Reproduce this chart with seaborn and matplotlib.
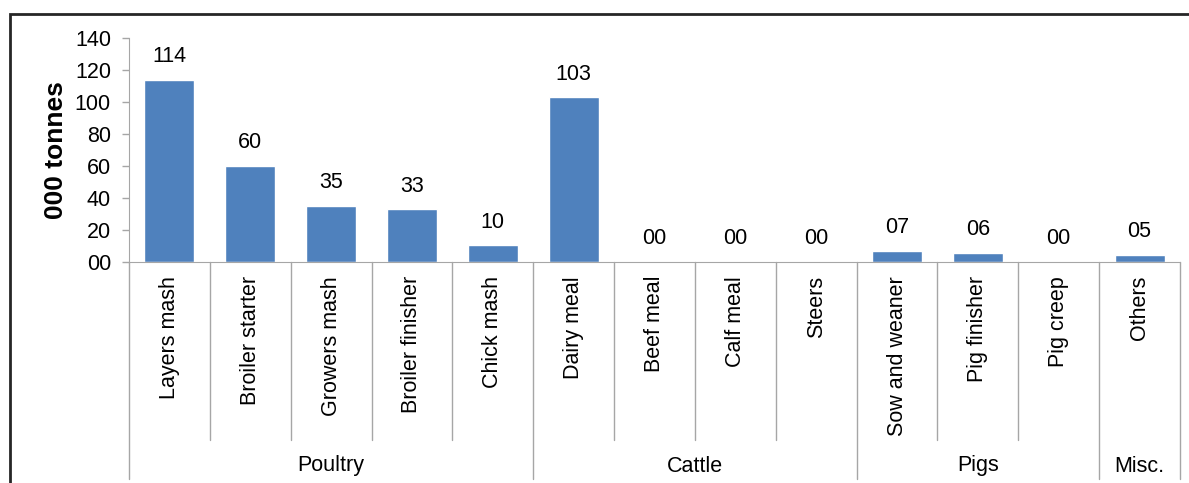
import matplotlib
matplotlib.use("Agg")
import matplotlib.pyplot as plt
import matplotlib.transforms as mtransforms
from matplotlib.patches import Rectangle
import seaborn as sns
import pandas as pd

categories = ["Layers mash", "Broiler starter", "Growers mash", "Broiler finisher",
              "Chick mash", "Dairy meal", "Beef meal", "Calf meal", "Steers",
              "Sow and weaner", "Pig finisher", "Pig creep", "Others"]
values = [114, 60, 35, 33, 10.4, 103, 0, 0, 0, 6.9, 5.7, 0, 4.6]
groups = ["Poultry", "Cattle", "Pigs", "Misc."]
group_sizes = [5, 4, 3, 1]
ytick_values = [0, 20, 40, 60, 80, 100, 120, 140]
ytick_labels = ["00", "20", "40", "60", "80", "100", "120", "140"]
ylabel = "000 tonnes"

sns.set_style("white")
plt.rcParams["font.family"] = ["Liberation Sans", "DejaVu Sans"]
plt.rcParams["text.color"] = "black"
plt.rcParams["axes.labelcolor"] = "black"
plt.rcParams["xtick.color"] = "black"
plt.rcParams["ytick.color"] = "black"

W, H = 1189, 483
fig = plt.figure(figsize=(W / 100, H / 100), dpi=100)
ax = fig.add_axes([129 / W, 1 - 262 / H, (1180 - 129) / W, (262 - 38) / H])

df = pd.DataFrame({"cat": categories, "val": values})
sns.barplot(data=df, x="cat", y="val", color="#4F81BD", saturation=1,
            width=0.62, ax=ax, order=categories)

ax.set_ylim(0, 140)
ax.set_xlim(-0.5, len(categories) - 0.5)
ax.set_yticks(ytick_values)
ax.set_yticklabels(ytick_labels, fontsize=15.5)
ax.set_xlabel("")
ax.set_ylabel(ylabel, fontsize=19, fontweight="bold", labelpad=5)

grey = "#A6A6A6"
for s in ["top", "right"]:
    ax.spines[s].set_visible(False)
ax.spines["left"].set_color(grey)
ax.spines["bottom"].set_color(grey)
ax.tick_params(axis="y", direction="out", length=5, color=grey, labelcolor="black",
               width=1, pad=8, left=True)
ax.tick_params(axis="x", length=0, pad=10, labelcolor="black")
for lbl in ax.get_xticklabels():
    lbl.set_rotation(90)
    lbl.set_fontsize(15.5)
    lbl.set_va("top")

labels = [f"{v:02.0f}" for v in values]
ax.bar_label(ax.containers[0], labels=labels, padding=9, fontsize=15.5, color="black")

trans = mtransforms.blended_transform_factory(ax.transData, fig.transFigure)
y_axis = 1 - 262 / H
y_inner = 1 - 440 / H
y_outer = 1 - 479 / H
y_group = 1 - 466 / H

boundaries = [0]
for g in group_sizes:
    boundaries.append(boundaries[-1] + g)

for i in range(len(categories) + 1):
    x = i - 0.5
    ybot = y_outer if i in boundaries else y_inner
    ax.plot([x, x], [y_axis, ybot], color=grey, lw=1, transform=trans, clip_on=False)

for gname, start, end in zip(groups, boundaries[:-1], boundaries[1:]):
    xc = (start + end) / 2 - 0.5
    ax.text(xc, y_group, gname, transform=trans, ha="center", va="center",
            fontsize=15.5, color="black")

fig.patches.append(Rectangle((10 / W, -0.05), 1.1, 1 - 14 / H + 0.05,
                             transform=fig.transFigure, fill=False,
                             edgecolor="#262626", linewidth=2, zorder=10))

fig.savefig("out.png", dpi=100)
